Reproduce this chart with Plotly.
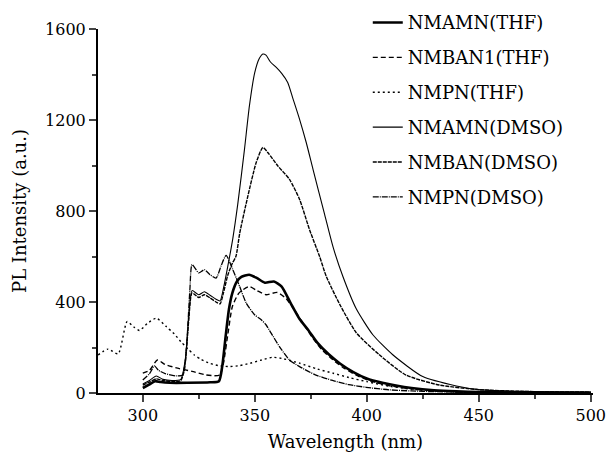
import plotly.graph_objects as go

# ---- data ----
nmamn_thf_x = [300, 303, 305.5, 308, 312, 320, 330, 334, 335.5, 337, 338.5, 340, 342, 344, 347.5, 351, 354.5, 358.5, 362, 366, 370, 374, 378, 383, 388, 394, 400, 407, 413, 420, 430, 440, 450, 470, 500]
nmamn_thf_y = [22, 38, 52, 48, 45, 45, 47, 52, 120, 250, 370, 440, 490, 510, 520, 505, 485, 490, 468, 395, 325, 275, 220, 170, 130, 92, 64, 45, 33, 22, 12, 7, 4, 2, 1]

nmban1_thf_x = [300, 303, 306.5, 310, 316, 322, 328, 332, 334.5, 336, 338, 340, 343, 347.5, 351, 355, 360, 364, 368, 372, 376, 380, 385, 390, 396, 402, 410, 420, 430, 440, 450, 470, 500]
nmban1_thf_y = [87, 100, 145, 125, 108, 95, 80, 76, 80, 130, 260, 380, 440, 468, 450, 432, 442, 415, 360, 300, 240, 190, 145, 108, 75, 52, 32, 18, 10, 6, 4, 2, 1]

nmpn_thf_x = [280, 284.5, 289, 293, 296, 298.5, 302, 306, 310.5, 314, 317, 320, 323, 326, 330, 334, 338.5, 343, 348, 353, 358, 363, 370, 378, 385, 392, 400, 410, 420, 430, 440, 450, 470, 500]
nmpn_thf_y = [167, 193, 172, 314, 290, 275, 305, 329, 292, 260, 226, 195, 167, 148, 130, 120, 116, 120, 131, 145, 157, 150, 131, 105, 87, 68, 50, 30, 17, 9, 5, 3, 2, 1]

nmamn_dmso_x = [300, 303, 306, 309, 313, 317, 319, 320.5, 322, 325, 327.5, 330, 332.7, 334.5, 336, 338, 340.2, 342.4, 345.4, 347.6, 350, 352, 353.6, 355, 357, 359.6, 362, 364.7, 367, 370, 373, 376, 381, 385, 389.3, 395.3, 402.7, 411.6, 425, 440, 450, 470, 500]
nmamn_dmso_y = [40, 55, 75, 60, 55, 60, 150, 330, 450, 432, 445, 430, 412, 405, 460, 560, 680, 830, 1071, 1262, 1409, 1470, 1490, 1485, 1455, 1431, 1405, 1365, 1295, 1203, 1100, 983, 792, 640, 513, 370, 256, 168, 72, 31, 15, 7, 4]

nmban_dmso_x = [300, 303, 306, 309, 313, 317, 319, 320.5, 322, 325, 327.5, 330, 332.7, 334.5, 336, 338, 340, 341.6, 343.3, 346.9, 350.6, 353.6, 356, 360.3, 365.5, 370, 374.4, 378.9, 381.9, 387.8, 395.3, 405.6, 417.5, 432.4, 450, 470, 500]
nmban_dmso_y = [35, 48, 62, 55, 50, 55, 140, 320, 440, 420, 432, 418, 400, 392, 440, 520, 570, 601, 704, 865, 1012, 1079, 1055, 998, 939, 851, 719, 601, 513, 392, 265, 168, 79, 35, 15, 7, 4]

nmpn_dmso_x = [300, 303, 305.2, 307, 310, 315, 318, 319.5, 321, 322, 325, 327.5, 330, 332.7, 335, 337.2, 340.2, 343.2, 346.2, 349.9, 352.9, 355, 357.3, 361, 365.5, 370, 377, 384.7, 392, 399.7, 410, 420, 430, 450, 500]
nmpn_dmso_y = [57, 85, 119, 100, 85, 75, 80, 200, 450, 564, 528, 542, 520, 505, 560, 605, 542, 469, 395, 344, 322, 300, 263, 204, 145, 116, 80, 55, 37, 25, 14, 9, 6, 3, 1]

x_ticks = [300, 350, 400, 450, 500]
y_ticks = [0, 400, 800, 1200, 1600]

FONT = "DejaVu Serif, serif"

series = [
    ("NMAMN(THF)", nmamn_thf_x, nmamn_thf_y, dict(color="black", width=2.6, dash="solid")),
    ("NMBAN1(THF)", nmban1_thf_x, nmban1_thf_y, dict(color="black", width=1.4, dash="5px,3px")),
    ("NMPN(THF)", nmpn_thf_x, nmpn_thf_y, dict(color="black", width=1.4, dash="2px,3px")),
    ("NMAMN(DMSO)", nmamn_dmso_x, nmamn_dmso_y, dict(color="black", width=1.1, dash="solid")),
    ("NMBAN(DMSO)", nmban_dmso_x, nmban_dmso_y, dict(color="black", width=1.4, dash="4px,1px")),
    ("NMPN(DMSO)", nmpn_dmso_x, nmpn_dmso_y, dict(color="black", width=1.3, dash="6px,1px,1px,1px")),
]

fig = go.Figure()
for i, (name, xs, ys, ln) in enumerate(series):
    fig.add_trace(go.Scatter(x=xs, y=ys, mode="lines", name=name, line=dict(shape="spline", smoothing=0.6, **ln),
                             legendgroup=f"g{i}"))

fig.update_layout(
    width=607, height=452,
    margin=dict(l=98, r=14, t=29, b=59, autoexpand=False),
    paper_bgcolor="white", plot_bgcolor="white",
    font=dict(family=FONT, size=16, color="black"),
    legend=dict(x=0.545, y=1.068, xanchor="left", yanchor="top", bgcolor="rgba(0,0,0,0)",
                font=dict(family=FONT, size=18), tracegroupgap=8.5, itemwidth=30, maxheight=1),
    showlegend=True,
)
fig.update_xaxes(range=[280, 501], tickvals=x_ticks, ticks="outside", ticklen=7, tickwidth=1.5,
                 showline=True, linecolor="black", linewidth=2, showgrid=False, zeroline=False,
                 minor=dict(dtick=25, tick0=0, ticks="outside", ticklen=4, tickwidth=1.5, showgrid=False),
                 title=dict(text="Wavelength (nm)", font=dict(family=FONT, size=18), standoff=12),
                 tickfont=dict(family=FONT, size=16))
fig.update_yaxes(range=[0, 1600], tickvals=y_ticks, ticks="outside", ticklen=7, tickwidth=1.5,
                 showline=True, linecolor="black", linewidth=2, showgrid=False, zeroline=False,
                 minor=dict(dtick=200, tick0=0, ticks="outside", ticklen=4, tickwidth=1.5, showgrid=False),
                 title=dict(text="PL Intensity (a.u.)", font=dict(family=FONT, size=18), standoff=14),
                 tickfont=dict(family=FONT, size=16))

fig.write_html("out.html", config={"displayModeBar": False},
               post_script="document.body.style.margin='0';document.body.style.overflow='hidden';")
